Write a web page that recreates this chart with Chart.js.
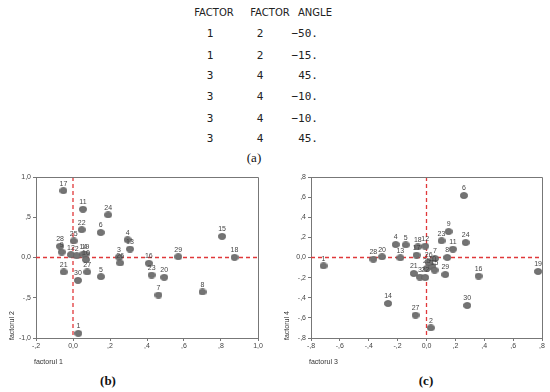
<!DOCTYPE html>
<html>
<head>
<meta charset="utf-8">
<script src="https://cdn.jsdelivr.net/npm/chart.js@4/dist/chart.umd.min.js"></script>
<style>
  body { margin: 0; background: #fff; width: 550px; height: 392px; overflow: hidden; position: relative; }
  .c { position: absolute; transform: translate(-50%, -50%); white-space: pre; color: #222; }
  .r { position: absolute; transform: translate(-100%, -50%); white-space: pre; color: #222; }
  .hd { font-family: "DejaVu Sans", sans-serif; font-size: 10px; }
  .num { font-family: "DejaVu Sans Mono", monospace; font-size: 11px; }
  .cap { font-family: "Liberation Serif", serif; font-size: 13px; color: #111; }
  canvas { position: absolute; }
</style>
</head>
<body>
<div id="table"></div>
<div class="c cap" style="left:254px;top:158px">(a)</div>
<div class="c cap" style="left:108px;top:381px;font-weight:bold">(b)</div>
<div class="c cap" style="left:426px;top:381px;font-weight:bold">(c)</div>
<canvas id="chartB" width="272" height="205" style="left:0px;top:168px"></canvas>
<canvas id="chartC" width="275" height="205" style="left:275px;top:168px"></canvas>
<script>
// rotation table (a)
const factorA = [1, 1, 3, 3, 3, 3];
const factorB = [2, 2, 4, 4, 4, 4];
const angles = [-50, -15, 45, -10, -10, 45];

// plot (b): factorul 1 vs factorul 2
const bNames = ['17','11','24','22','6','4','13','28','9','25','12','2','14','19','10','21','30','27','5','3','26','16','23','20','7','8','1','15','18','29'];
const bX = [-0.052,0.054,0.19,0.047,0.15,0.295,0.308,-0.07,-0.061,0.004,-0.011,0.02,0.056,0.068,0.07,-0.05,0.027,0.077,0.151,0.248,0.255,0.41,0.425,0.493,0.462,0.70,0.029,0.806,0.873,0.569];
const bY = [0.83,0.60,0.53,0.345,0.31,0.22,0.105,0.139,0.068,0.205,0.035,0.023,0.043,0.043,-0.027,-0.18,-0.284,-0.18,-0.238,0.006,-0.068,-0.072,-0.218,-0.246,-0.466,-0.428,-0.942,0.263,0.002,0.01];

// plot (c): factorul 3 vs factorul 4
const cNames = ['6','9','23','24','11','8','4','5','18','12','17','7','28','20','13','1','25','10','15','26','21','3','22','29','16','19','14','27','2','30'];
const cX = [0.259,0.153,0.104,0.271,0.183,0.144,-0.213,-0.144,-0.06,-0.009,-0.069,0.058,-0.368,-0.308,-0.181,-0.713,0.002,0.039,0.056,0.015,-0.088,-0.046,-0.009,0.13,0.361,0.773,-0.266,-0.076,0.03,0.282];
const cY = [0.616,0.258,0.166,0.149,0.083,0.0,0.129,0.126,0.106,0.113,0.023,-0.01,-0.017,0.007,-0.003,-0.083,-0.109,-0.089,-0.126,-0.05,-0.159,-0.195,-0.199,-0.169,-0.185,-0.139,-0.457,-0.573,-0.699,-0.477];

// ---- table ----
const tableEl = document.getElementById('table');
function addText(cls, x, y, txt)
{
    const d = document.createElement('div');
    d.className = cls;
    d.style.left = x + 'px';
    d.style.top = y + 'px';
    d.textContent = txt;
    tableEl.appendChild(d);
}
addText('c hd', 214, 12, 'FACTOR');
addText('c hd', 270, 12, 'FACTOR');
addText('c hd', 315, 12, 'ANGLE');
const rowY = [32.5, 54.5, 74.5, 96, 118, 138];
for (let i = 0; i < angles.length; i++)
{
    addText('c num', 210, rowY[i], String(factorA[i]));
    addText('c num', 260, rowY[i], String(factorB[i]));
    addText('r num', 318, rowY[i], (angles[i] < 0 ? '\u2212' + Math.abs(angles[i]) : angles[i]) + '.');
}

// ---- charts ----
function dotImage()
{
    const c = document.createElement('canvas');
    c.width = 8; c.height = 7;
    const g = c.getContext('2d');
    g.fillStyle = '#747474';
    g.beginPath();
    g.ellipse(4, 3.5, 3.7, 3.1, 0, 0, Math.PI * 2);
    g.fill();
    g.strokeStyle = '#5e5e5e';
    g.lineWidth = 0.7;
    g.stroke();
    return c;
}
const DOT = dotImage();

function tickFmt(v)
{
    v = Math.round(v * 10) / 10;
    if (v === 0) return '0,0';
    if (Math.abs(v) >= 1) return v.toFixed(1).replace('.', ',');
    const s = v.toFixed(1).replace('.', ',');
    return s.replace('0,', ',');
}

const factorPlugin = {
    id: 'factorPlugin',
    beforeDatasetsDraw(chart)
    {
        const ctx = chart.ctx;
        const a = chart.chartArea;
        const x0 = chart.scales.x.getPixelForValue(0);
        const y0 = chart.scales.y.getPixelForValue(0);
        ctx.save();
        ctx.strokeStyle = '#e0383a';
        ctx.lineWidth = 1.3;
        ctx.setLineDash([4, 3]);
        ctx.beginPath();
        ctx.moveTo(x0, a.top); ctx.lineTo(x0, a.bottom);
        ctx.moveTo(a.left, y0); ctx.lineTo(a.right, y0);
        ctx.stroke();
        ctx.restore();
    },
    afterDatasetsDraw(chart, args, opts)
    {
        const ctx = chart.ctx;
        const meta = chart.getDatasetMeta(0);
        ctx.save();
        ctx.font = '7px "Liberation Sans", Arial, sans-serif';
        ctx.fillStyle = '#444';
        ctx.textAlign = 'center';
        ctx.textBaseline = 'bottom';
        meta.data.forEach((p, i) => {
            ctx.fillText(opts.names[i], p.x, p.y - 3.5);
        });
        ctx.restore();
    },
    afterDraw(chart, args, opts)
    {
        const ctx = chart.ctx;
        const a = chart.chartArea;
        ctx.save();
        ctx.strokeStyle = '#777';
        ctx.lineWidth = 1;
        ctx.beginPath();
        ctx.moveTo(a.left, a.top + 0.5); ctx.lineTo(a.right + 0.5, a.top + 0.5); ctx.lineTo(a.right + 0.5, a.bottom);
        ctx.stroke();
        ctx.font = '7px "Liberation Sans", Arial, sans-serif';
        ctx.fillStyle = '#333';
        ctx.textBaseline = 'middle';
        ctx.textAlign = 'left';
        ctx.fillText(opts.xTitle, a.left - 2, a.bottom + 24);
        ctx.translate(a.left - 24, a.bottom + 2);
        ctx.rotate(-Math.PI / 2);
        ctx.fillText(opts.yTitle, 0, 0);
        ctx.restore();
    }
};

function scaleOpts(min, max, step, fitSize, horizontal)
{
    return {
        type: 'linear',
        min: min,
        max: max,
        ticks: {
            stepSize: step,
            callback: tickFmt,
            font: { family: '"Liberation Sans", Arial, sans-serif', size: 7 },
            color: '#444',
            padding: horizontal ? 1 : 2,
            maxRotation: 0,
            autoSkip: false
        },
        grid: { drawOnChartArea: false, drawTicks: true, tickLength: 3, color: '#777' },
        border: { color: '#777' },
        afterFit: (scale) => {
            if (horizontal) scale.height = fitSize;
            else scale.width = fitSize;
        }
    };
}

function RenderFactorChart(canvasId, names, xs, ys, xr, yr, padRight, xTitle, yTitle)
{
    const pts = [];
    for (let i = 0; i < xs.length; i++)
    {
        pts[i] = { x: xs[i], y: ys[i] };
    }
    return new Chart(document.getElementById(canvasId), {
        type: 'scatter',
        data: {
            datasets: [{
                data: pts,
                pointStyle: DOT,
                pointRadius: 4,
                pointHoverRadius: 4
            }]
        },
        options: {
            responsive: false,
            animation: false,
            events: [],
            layout: { padding: { top: 9, right: padRight, left: 0, bottom: 0 } },
            scales: {
                x: scaleOpts(xr[0], xr[1], xr[2], 35, true),
                y: scaleOpts(yr[0], yr[1], yr[2], 36, false)
            },
            plugins: {
                legend: { display: false },
                tooltip: { enabled: false },
                factorPlugin: { names: names, xTitle: xTitle, yTitle: yTitle }
            }
        },
        plugins: [factorPlugin]
    });
}

RenderFactorChart('chartB', bNames, bX, bY, [-0.2, 1.0, 0.2], [-1.0, 1.0, 0.5], 14, 'factorul 1', 'factorul 2');
RenderFactorChart('chartC', cNames, cX, cY, [-0.8, 0.8, 0.2], [-0.8, 0.8, 0.2], 8, 'factorul 3', 'factorul 4');
</script>
</body>
</html>
